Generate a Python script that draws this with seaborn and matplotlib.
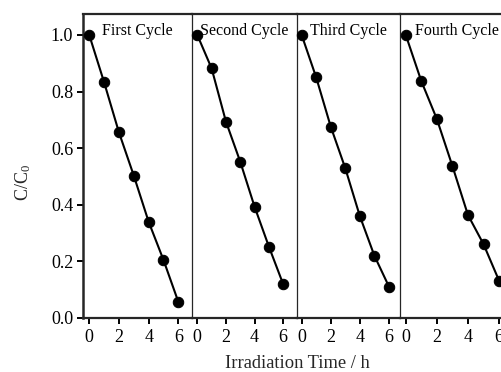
import matplotlib
matplotlib.use("Agg")
import matplotlib.pyplot as plt
import pandas as pd
import seaborn as sns

# Photocatalytic degradation over four consecutive reuse cycles
time_h = [0, 1, 2, 3, 4, 5, 6]
cycle_names = ["First Cycle", "Second Cycle", "Third Cycle", "Fourth Cycle"]
first_cycle = [1.000, 0.833, 0.656, 0.503, 0.340, 0.205, 0.057]
second_cycle = [1.000, 0.882, 0.694, 0.552, 0.393, 0.252, 0.119]
third_cycle = [1.000, 0.850, 0.676, 0.529, 0.360, 0.220, 0.111]
fourth_cycle = [1.000, 0.837, 0.703, 0.537, 0.364, 0.261, 0.132]
x_ticks = [0, 2, 4, 6]
y_ticks = [0.0, 0.2, 0.4, 0.6, 0.8, 1.0]

frames = []
for name, vals in zip(cycle_names,
                      [first_cycle, second_cycle, third_cycle, fourth_cycle]):
    frames.append(pd.DataFrame({"cycle": name, "time": time_h, "ratio": vals}))
data = pd.concat(frames, ignore_index=True)

sns.set_theme(style="ticks")
plt.rcParams["font.family"] = ["Liberation Serif", "DejaVu Serif"]
plt.rcParams["mathtext.fontset"] = "custom"
plt.rcParams["mathtext.rm"] = "Liberation Serif"
plt.rcParams["mathtext.it"] = "Liberation Serif:italic"

W, H = 501, 372
fig = plt.figure(figsize=(W / 100, H / 100), dpi=100)

# panel edges in pixels; the last panel runs past the right border
edges = [83.0, 191.7, 296.7, 400.0, 514.6]
xlims = [(-0.42, 6.90), (-0.39, 6.94), (-0.34, 6.76), (-0.37, 7.00)]
top_px, bot_px = 14.0, 318.0

axes = []
for i, name in enumerate(cycle_names):
    left = edges[i] / W
    width = (edges[i + 1] - edges[i]) / W
    ax = fig.add_axes([left, 1 - bot_px / H, width, (bot_px - top_px) / H])
    sub = data[data["cycle"] == name]
    sns.lineplot(data=sub, x="time", y="ratio", ax=ax, color="black",
                 linewidth=1.5, marker="o", markersize=7.5,
                 markeredgecolor="black", markerfacecolor="black",
                 clip_on=False, zorder=3)
    ax.set_xlim(*xlims[i])
    ax.set_ylim(0, 1.074)
    ax.set_xticks(x_ticks)
    ax.set_xticklabels([str(t) for t in x_ticks])
    ax.set_xlabel("")
    ax.set_ylabel("")
    ax.tick_params(axis="x", direction="out", length=4, width=1.4,
                   labelsize=13, pad=4, colors="black")
    ax.spines["top"].set_linewidth(1.6)
    ax.spines["bottom"].set_linewidth(1.6)
    ax.spines["right"].set_visible(False)
    if i == 0:
        ax.spines["left"].set_linewidth(1.8)
        ax.set_yticks(y_ticks)
        ax.set_yticklabels([f"{v:.1f}" for v in y_ticks])
        ax.tick_params(axis="y", direction="out", length=4, width=1.4,
                       labelsize=13, pad=3, colors="black")
    else:
        ax.spines["left"].set_linewidth(0.9)
        ax.set_yticks([])
    ax.text(0.5, (bot_px - 35) / (bot_px - top_px), name,
            transform=ax.transAxes, ha="center", va="baseline",
            fontsize=11.5, color="black")
    ax.set_facecolor("white")
    axes.append(ax)

fig.text(23 / W, 1 - 182 / H, r"C/C$_0$", rotation=90, ha="center",
         va="center", fontsize=13)
fig.text(297.5 / W, 1 - 368 / H, "Irradiation Time / h", ha="center",
         va="baseline", fontsize=13.3)

fig.savefig("out.png", dpi=100, facecolor="white")
